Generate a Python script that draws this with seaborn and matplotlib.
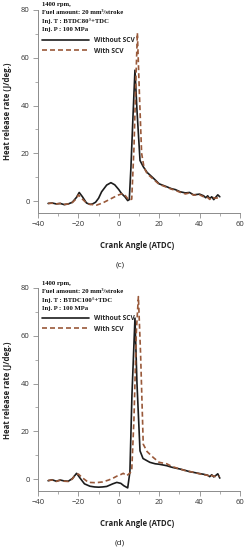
import seaborn as sns
import matplotlib.pyplot as plt
import matplotlib.ticker as mticker
import numpy as np

sns.set_style("ticks")
plt.rcParams['font.family'] = ['Open Sans', 'DejaVu Sans']

# ---- panel (c) : Inj. T BTDC80+TDC ----
c_wo_x = [-35, -33, -31, -29, -27, -25, -23, -21, -19.6, -18, -16, -14.3, -13, -11.5, -10, -8.5,
          -6, -3.9, -2, 0, 1.3, 3, 4.4, 5.2, 6, 7, 8, 9, 10.5, 12.1, 14, 17.1, 20, 23.7, 26,
          28, 30.3, 33, 35, 37, 40, 42, 43, 44, 45, 46, 47, 48, 49, 50]
c_wo_y = [-1, -0.8, -1.2, -1.0, -1.5, -1.2, -0.5, 1.5, 3.6, 1.8, -0.8, -1.4, -1.2, -0.5, 1.2, 3.9,
          6.7, 7.7, 6.8, 4.8, 3.2, 1.8, 0.2, 0.6, 14, 35, 54.8, 38, 17, 14.4, 12, 9.6, 7.2, 6, 5.2,
          4.8, 3.9, 3.4, 3.6, 2.6, 2.9, 2.2, 1.4, 2.2, 1.0, 1.8, 0.6, 1.6, 2.6, 1.8]
c_w_x = [-35, -33, -31, -29, -27, -25, -23, -21, -20, -18, -16, -14, -12, -11, -8, -5, -2,
         0, 2.2, 3.5, 5, 6.4, 7.5, 8.5, 9.2, 10.2, 11.3, 12.5, 14, 17, 20, 23.7, 26, 28,
         30.3, 33, 35, 37, 40, 42, 44, 45, 46, 48, 50]
c_w_y = [-1, -0.9, -1.2, -1.0, -1.4, -1.2, -0.6, 1.0, 2.6, 0.8, -0.8, -1.4, -1.6, -1.7, -0.8, 0.5, 1.8,
         2.6, 3.2, 2.0, 0.4, 0.8, 22, 52, 70.4, 45, 20, 14, 11.5, 9.2, 7, 5.8, 5.0,
         4.5, 3.7, 3.0, 3.4, 2.5, 2.6, 1.8, 1.5, 0.7, 1.6, 1.2, 1.5]

# ---- panel (d) : Inj. T BTDC100+TDC ----
d_wo_x = [-35, -33, -31, -29, -27, -25, -23, -20.9, -19, -17, -14.3, -12, -10, -8, -6, -3, -1,
          1, 2.5, 4.4, 5.5, 6.5, 8, 9, 10.5, 12, 15.4, 18, 20, 23.7, 26, 28, 30.3, 33, 35,
          37, 40, 42, 44, 45, 46, 47, 48, 49, 50]
d_wo_y = [-0.7, -0.3, -0.9, -0.4, -0.8, -0.9, 0.2, 2.4, 0.2, -2.0, -3.0, -3.3, -3.4, -3.3, -3.1, -2.0, -1.4,
          -1.8, -2.8, -3.7, 3, 35, 67.4, 40, 11.8, 8.6, 7, 6.4, 6.2, 5.6, 5.0, 4.6, 4.2, 3.6, 3.1,
          2.8, 2.3, 2.0, 1.6, 1.0, 1.8, 0.9, 1.5, 2.2, 0.4]
d_w_x = [-35, -33, -31, -29, -27, -25, -23, -22, -20, -18, -15, -12, -10, -8, -5, -3, -1,
         1, 2.2, 3.9, 5.5, 6.4, 7.5, 8.7, 9.7, 10.8, 12.1, 14, 17.1, 20, 23.7, 26, 28, 30.3,
         33, 35, 37, 40, 42, 44, 45, 46, 48, 50]
d_w_y = [-0.6, -0.4, -1.0, -0.5, -0.9, -1.0, 0.0, 1.2, 2.1, 0.5, -1.4, -1.5, -1.4, -1.2, -0.4, 0.3, 1.2,
         1.9, 2.4, 1.4, 2.5, 3.5, 25, 62, 76.4, 52, 14.6, 11.5, 9, 7, 6.4, 5.4, 4.8, 4.2,
         3.5, 3.2, 2.8, 2.2, 1.8, 1.6, 0.8, 1.5, 1.0, 1.2]

notes_c = ["1400 rpm,", "Fuel amount: 20 mm³/stroke", "Inj. T : BTDC80°+TDC", "Inj. P : 100 MPa"]
notes_d = ["1400 rpm,", "Fuel amount: 20 mm³/stroke", "Inj. T : BTDC100°+TDC", "Inj. P : 100 MPa"]
series_names = ["Without SCV", "With SCV"]

W, H = 249, 550
fig = plt.figure(figsize=(W / 100, H / 100), dpi=100)

black = "#1c1c1c"
brown = "#99593a"
spine_col = "#8c8c8c"


def fy(px):
    return 1 - px / H


def panel(rect, wo, w, notes, caption, text_top, leg_top, cap_y, xl_y):
    ax = fig.add_axes(rect)
    sns.lineplot(x=wo[0], y=wo[1], ax=ax, color=black, lw=1.2, label=series_names[0], sort=False)
    sns.lineplot(x=w[0], y=w[1], ax=ax, color=brown, lw=1.2, linestyle=(0, (3, 1.8)),
                 label=series_names[1], sort=False)
    ax.set_xlim(-40, 60)
    ax.set_ylim(-5, 80)
    ax.xaxis.set_major_locator(mticker.MultipleLocator(20))
    ax.xaxis.set_minor_locator(mticker.MultipleLocator(10))
    ax.yaxis.set_major_locator(mticker.MultipleLocator(20))
    ax.yaxis.set_minor_locator(mticker.MultipleLocator(10))
    sns.despine(ax=ax)
    for s in ["left", "bottom"]:
        ax.spines[s].set_color(spine_col)
        ax.spines[s].set_linewidth(0.7)
    ax.tick_params(which="major", length=3.5, width=0.6, color=spine_col, labelsize=5.5,
                   labelcolor="#333333", pad=2.5)
    ax.tick_params(which="minor", length=2, width=0.5, color=spine_col)
    ax.set_xlabel("")
    ax.set_ylabel("")
    fig.text(137 / W, fy(xl_y), "Crank Angle (ATDC)", ha="center", va="center",
             fontsize=5.6, fontweight="bold", color="#222222")
    fig.text(120 / W, fy(cap_y), caption, ha="center", va="center", fontsize=6, color="#222222")
    for i, t in enumerate(notes):
        fig.text(42 / W, fy(text_top + i * 8.2), t, ha="left", va="center", fontsize=4.8,
                 fontweight="bold", family="Liberation Serif", color="#111111")
    ax.legend(loc="upper left", bbox_to_anchor=(42 / W, fy(leg_top)), bbox_transform=fig.transFigure,
              frameon=False, borderpad=0, borderaxespad=0, handlelength=7.0, handletextpad=0.8,
              labelspacing=0.55, prop={"size": 4.8, "weight": "bold"})
    return ax


panel([38 / W, fy(213), 202 / W, 203 / H], (c_wo_x, c_wo_y), (c_w_x, c_w_y), notes_c, "(c)",
      4.5, 37, 265, 245)
panel([38 / W, fy(491), 202 / W, 203 / H], (d_wo_x, d_wo_y), (d_w_x, d_w_y), notes_d, "(d)",
      283.5, 315, 543, 523)

for yc in (111, 390):
    fig.text(7 / W, fy(yc), "Heat release rate (J/deg.)", rotation=90, ha="center", va="center",
             fontsize=5.6, fontweight="bold", color="#222222")

fig.savefig("out.png", dpi=100)
